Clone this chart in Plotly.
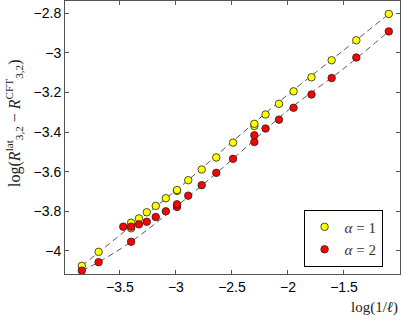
import plotly.graph_objects as go

# alpha = 1 (yellow)
x_a1 = [-3.84, -3.69, -3.40, -3.40, -3.33, -3.26, -3.18, -3.09, -2.99, -2.99, -2.89, -2.77, -2.64, -2.49,
        -2.30, -2.30, -2.20, -2.08, -1.95, -1.79, -1.61, -1.39, -1.10]
y_a1 = [-4.076, -4.005, -3.886, -3.858, -3.836, -3.805, -3.773, -3.734, -3.697, -3.693, -3.643, -3.589, -3.528, -3.453,
        -3.369, -3.358, -3.311, -3.257, -3.194, -3.123, -3.037, -2.936, -2.803]

# alpha = 2 (red)
x_a2 = [-3.84, -3.69, -3.47, -3.40, -3.40, -3.33, -3.26, -3.18, -3.09, -2.99, -2.99, -2.89, -2.77, -2.64, -2.49,
        -2.30, -2.30, -2.20, -2.08, -1.95, -1.79, -1.61, -1.39, -1.10]
y_a2 = [-4.100, -4.057, -3.878, -3.954, -3.878, -3.866, -3.853, -3.829, -3.800, -3.778, -3.765, -3.721, -3.668, -3.606, -3.535,
        -3.450, -3.416, -3.382, -3.337, -3.277, -3.210, -3.127, -3.023, -2.891]

# dashed fit curves
fit1_x = [-3.84, -3.69, -3.40, -3.00, -2.50, -2.00, -1.50, -1.10]
fit1_y = [-4.076, -4.008, -3.875, -3.695, -3.450, -3.210, -2.985, -2.803]
fit2_x = [-3.84, -3.69, -3.40, -3.00, -2.50, -2.00, -1.50, -1.10]
fit2_y = [-4.100, -4.057, -3.954, -3.778, -3.540, -3.290, -3.078, -2.891]

ytick_vals = [-4, -3.8, -3.6, -3.4, -3.2, -3, -2.8]
ytick_text = ["\u22124", "\u22123.8", "\u22123.6", "\u22123.4", "\u22123.2", "\u22123", "\u22122.8"]
xtick_vals = [-3.5, -3, -2.5, -2, -1.5, -1]
xtick_text = ["\u22123.5", "\u22123", "\u22122.5", "\u22122", "\u22121.5", "\u22121"]

fig = go.Figure()
for fx, fy in [(fit1_x, fit1_y), (fit2_x, fit2_y)]:
    fig.add_trace(go.Scatter(x=fx, y=fy, mode="lines", showlegend=False, hoverinfo="skip",
                             line=dict(color="#444444", width=0.9, dash="6px,4px", shape="spline")))

fig.add_trace(go.Scatter(x=x_a1, y=y_a1, mode="markers", name="<i>α</i> = 1",
                         marker=dict(color="#FFFF00", size=7.5, line=dict(color="#222222", width=0.8))))
fig.add_trace(go.Scatter(x=x_a2, y=y_a2, mode="markers", name="<i>α</i> = 2",
                         marker=dict(color="#FF0000", size=7.5, line=dict(color="#222222", width=0.8))))

axis_common = dict(showgrid=False, zeroline=False, showline=True, linecolor="#555555", linewidth=1,
                   mirror="ticks", ticks="inside", ticklen=4, tickcolor="#555555",
                   tickfont=dict(family="Liberation Sans, Arial", size=14, color="#000000"))

fig.update_xaxes(range=[-3.99, -1.0], tickvals=xtick_vals, ticktext=xtick_text, **axis_common)
fig.update_yaxes(range=[-4.117, -2.7375], tickvals=ytick_vals, ticktext=ytick_text, **axis_common)

fig.update_layout(
    width=404, height=320,
    margin=dict(l=65, r=4, t=1, b=46),
    paper_bgcolor="white", plot_bgcolor="white",
    showlegend=True,
    legend=dict(x=0.948, y=0.236, xanchor="right", yanchor="top",
                bgcolor="white", bordercolor="#000000", borderwidth=1,
                font=dict(family="Liberation Serif, DejaVu Serif", size=15, color="#333333"),
                itemwidth=30, tracegroupgap=0),
    annotations=[
        dict(text="log(1/<i>ℓ</i>)", x=1.0, y=-0.085, xref="paper", yref="paper",
             xanchor="right", yanchor="top", showarrow=False,
             font=dict(family="Liberation Serif, DejaVu Serif", size=15, color="#222222")),
        dict(text="log(<i>R</i><sup>lat</sup><sub>3,2</sub> − <i>R</i><sup>CFT</sup><sub>3,2</sub>)",
             x=-0.152, y=0.55, xref="paper", yref="paper", textangle=-90,
             xanchor="center", yanchor="middle", showarrow=False,
             font=dict(family="Liberation Serif, DejaVu Serif", size=16, color="#222222")),
    ],
)

fig.write_html("out.html", config={"displayModeBar": False},
               post_script="document.body.style.margin='0';document.body.style.overflow='hidden';")
